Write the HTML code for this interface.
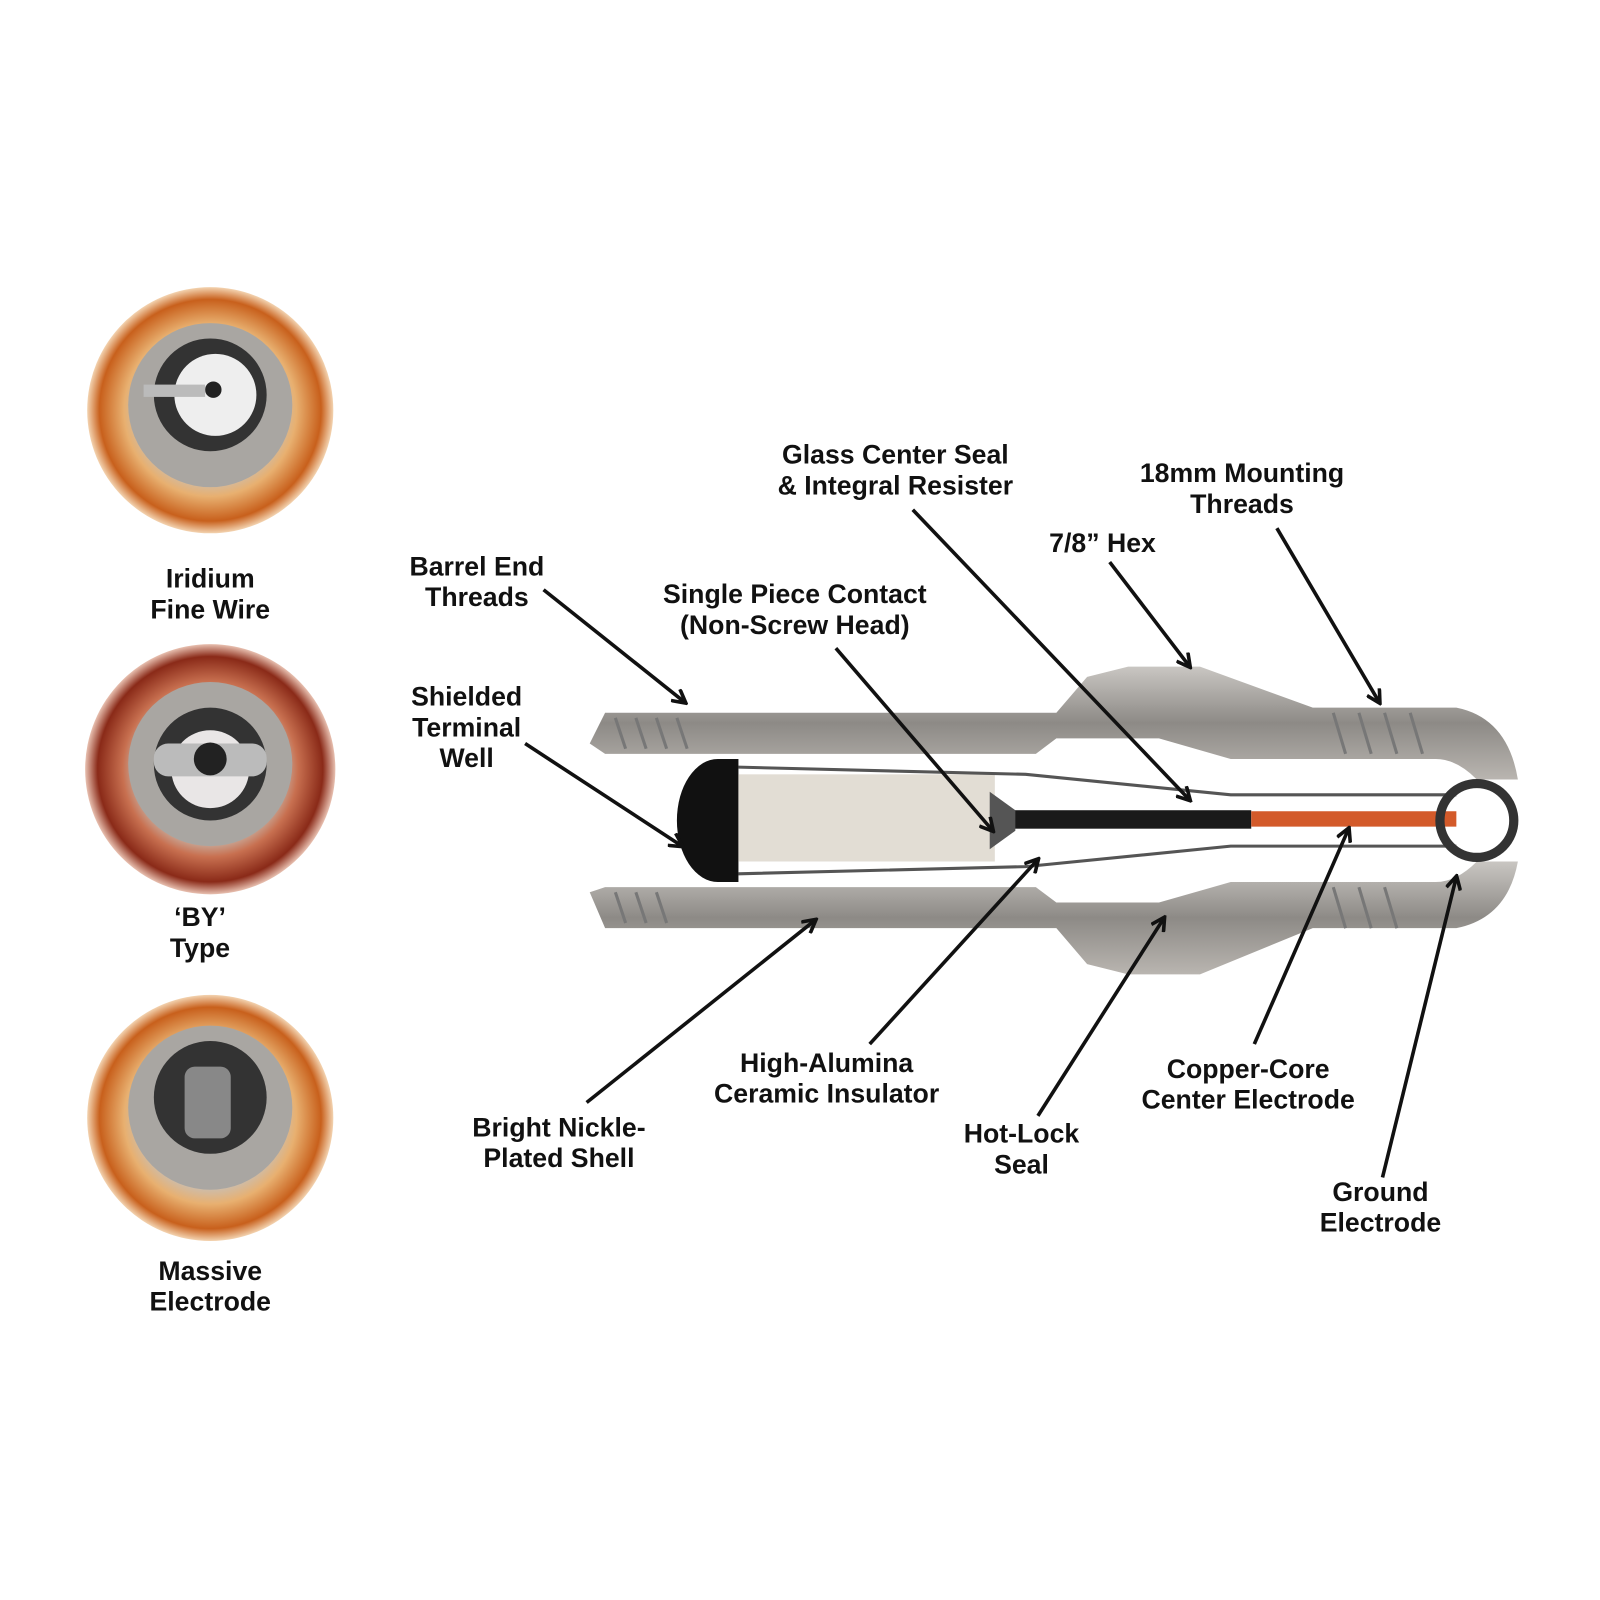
<!DOCTYPE html>
<html><head><meta charset="utf-8"><style>
html,body{margin:0;padding:0;background:#fff}
svg{display:block}
text{font-family:"Liberation Sans",sans-serif;font-weight:bold;font-size:26px;fill:#111;text-anchor:middle}
</style></head><body>
<svg width="1600" height="1600" viewBox="0 0 1600 1600" xmlns="http://www.w3.org/2000/svg">
<defs>
<marker id="a" markerWidth="16" markerHeight="16" refX="13" refY="8" orient="auto" markerUnits="userSpaceOnUse"><path d="M1,1 L14,8 L1,15" fill="none" stroke="#111" stroke-width="3.5"/></marker>
<linearGradient id="m" x1="0" y1="0" x2="0" y2="1"><stop offset="0" stop-color="#c9c6c2"/><stop offset=".5" stop-color="#8d8a86"/><stop offset="1" stop-color="#b9b5b0"/></linearGradient>
<radialGradient id="cu" cx=".5" cy=".5" r=".5"><stop offset=".55" stop-color="#c8bfb5"/><stop offset=".7" stop-color="#e8b070"/><stop offset=".9" stop-color="#c8601c"/><stop offset="1" stop-color="#f3d3b0"/></radialGradient>
<radialGradient id="cu2" cx=".5" cy=".5" r=".5"><stop offset=".55" stop-color="#c8bfb5"/><stop offset=".7" stop-color="#c87050"/><stop offset=".9" stop-color="#8a2a18"/><stop offset="1" stop-color="#e8c0b0"/></radialGradient>
</defs>
<g transform="scale(1.0256)">
<g>
<circle cx="205" cy="400" r="120" fill="url(#cu)"/><circle cx="205" cy="395" r="80" fill="#a9a6a2"/><circle cx="205" cy="385" r="55" fill="#333"/><circle cx="210" cy="385" r="40" fill="#eee"/><circle cx="208" cy="380" r="8" fill="#222"/><rect x="140" y="375" width="60" height="12" fill="#bbb"/>
<circle cx="205" cy="750" r="122" fill="url(#cu2)"/><circle cx="205" cy="745" r="80" fill="#a9a6a2"/><circle cx="205" cy="745" r="55" fill="#333"/><circle cx="205" cy="750" r="38" fill="#e9e6e6"/><rect x="150" y="725" width="110" height="32" rx="14" fill="#bbb"/><circle cx="205" cy="740" r="16" fill="#222"/>
<circle cx="205" cy="1090" r="120" fill="url(#cu)"/><circle cx="205" cy="1080" r="80" fill="#a9a6a2"/><circle cx="205" cy="1070" r="55" fill="#333"/><rect x="180" y="1040" width="45" height="70" rx="10" fill="#888"/>
</g>
<text x="205" y="573">Iridium</text><text x="205" y="603">Fine Wire</text>
<text x="195" y="903">‘BY’</text><text x="195" y="933">Type</text>
<text x="205" y="1248">Massive</text><text x="205" y="1278">Electrode</text>
<g>
<path d="M575,725 L590,695 L1030,695 L1060,660 L1100,650 L1170,650 L1280,690 L1420,690 Q1470,700 1480,760 L1440,760 Q1420,740 1400,740 L1200,740 L1130,720 L1030,720 L1010,735 L590,735 Z" fill="url(#m)"/>
<path d="M575,870 L590,905 L1030,905 L1060,940 L1100,950 L1170,950 L1280,905 L1420,905 Q1470,895 1480,840 L1440,840 Q1420,860 1400,860 L1200,860 L1130,880 L1030,880 L1010,865 L590,865 Z" fill="url(#m)"/>
<path d="M600,700 l10,30 M620,700 l10,30 M640,700 l10,30 M660,700 l10,30 M1300,695 l12,40 M1325,695 l12,40 M1350,695 l12,40 M1375,695 l12,40 M600,870 l10,30 M620,870 l10,30 M640,870 l10,30 M1300,865 l12,40 M1325,865 l12,40 M1350,865 l12,40" stroke="#777" stroke-width="3"/>
<path d="M700,740 L720,740 L720,860 L700,860 A40,60 0 0 1 700,740 Z" fill="#111"/>
<rect x="720" y="755" width="250" height="85" fill="#e2ddd4"/>
<path d="M720,748 L1000,755 L1200,775 L1420,775 M720,852 L1000,845 L1200,825 L1420,825" fill="none" stroke="#555" stroke-width="3"/>
<rect x="985" y="790" width="235" height="18" fill="#1a1a1a"/>
<rect x="1220" y="791" width="200" height="15" fill="#d35a2a"/>
<path d="M965,772 L990,790 L990,810 L965,828 Z" fill="#555"/>
<circle cx="1440" cy="800" r="36" fill="none" stroke="#333" stroke-width="9"/>
</g>
<g stroke="#111" stroke-width="3.5" fill="none" marker-end="url(#a)">
<line x1="890" y1="497" x2="1160" y2="780"/>
<line x1="1245" y1="515" x2="1345" y2="685"/>
<line x1="1082" y1="548" x2="1160" y2="650"/>
<line x1="530" y1="575" x2="668" y2="685"/>
<line x1="815" y1="632" x2="968" y2="810"/>
<line x1="512" y1="725" x2="665" y2="825"/>
<line x1="572" y1="1075" x2="795" y2="897"/>
<line x1="848" y1="1018" x2="1012" y2="838"/>
<line x1="1012" y1="1088" x2="1135" y2="895"/>
<line x1="1223" y1="1018" x2="1315" y2="808"/>
<line x1="1348" y1="1148" x2="1420" y2="855"/>
</g>
<text x="873" y="452">Glass Center Seal</text><text x="873" y="482">&amp; Integral Resister</text>
<text x="1211" y="470">18mm Mounting</text><text x="1211" y="500">Threads</text>
<text x="1075" y="538">7/8” Hex</text>
<text x="465" y="561">Barrel End</text><text x="465" y="591">Threads</text>
<text x="775" y="588">Single Piece Contact</text><text x="775" y="618">(Non-Screw Head)</text>
<text x="455" y="688">Shielded</text><text x="455" y="718">Terminal</text><text x="455" y="748">Well</text>
<text x="545" y="1108">Bright Nickle-</text><text x="545" y="1138">Plated Shell</text>
<text x="806" y="1045">High-Alumina</text><text x="806" y="1075">Ceramic Insulator</text>
<text x="996" y="1114">Hot-Lock</text><text x="996" y="1144">Seal</text>
<text x="1217" y="1051">Copper-Core</text><text x="1217" y="1081">Center Electrode</text>
<text x="1346" y="1171">Ground</text><text x="1346" y="1201">Electrode</text>
</g>
</svg>
</body></html>
